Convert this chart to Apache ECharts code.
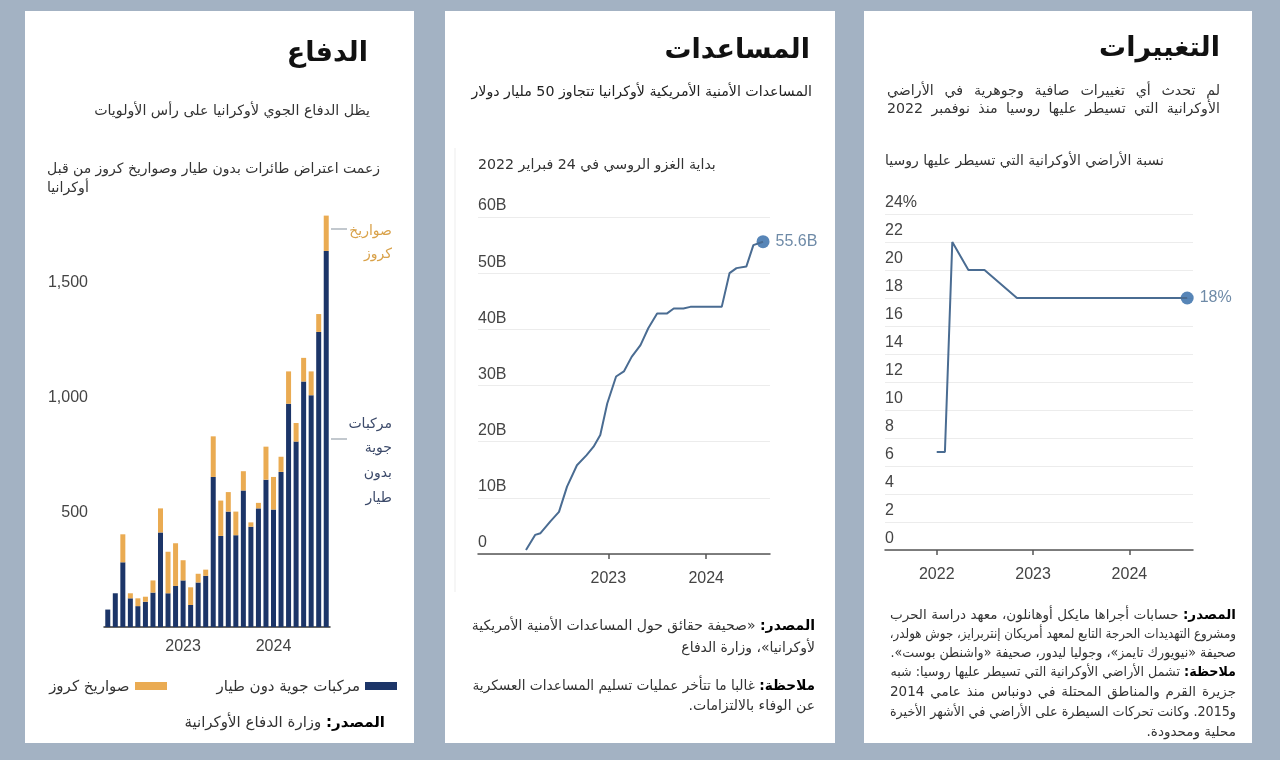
<!DOCTYPE html>
<html lang="ar">
<head>
<meta charset="utf-8">
<script src="https://cdn.jsdelivr.net/npm/echarts@6/dist/echarts.min.js"></script>
<style>
html,body{margin:0;padding:0;}
body{width:1280px;height:760px;background:#a3b2c3;position:relative;overflow:hidden;font-family:'DejaVu Sans',sans-serif;}
.panel{position:absolute;background:#fff;top:11px;height:732px;}
#chart{position:absolute;left:0;top:0;width:1280px;height:760px;z-index:1;}
.t{position:absolute;z-index:2;white-space:nowrap;direction:rtl;color:#333;font-size:15px;line-height:20px;height:20px;text-align:right;}
.j{text-align:justify;text-align-last:justify;}
.l{text-align:left;}
.h{font-weight:bold;font-size:27px;line-height:36px;height:36px;color:#111;}
.s{font-size:14.2px;}
.f{font-size:14px;}
.g{font-size:13.5px;line-height:19px;height:19px;}
b{color:#000;}
.leg{position:absolute;z-index:2;direction:rtl;display:flex;align-items:center;font-size:15px;color:#333;white-space:nowrap;}
.sw{display:inline-block;width:32px;height:8px;}
</style>
</head>
<body>
<div class="panel" style="left:25px;width:389px"></div>
<div class="panel" style="left:445px;width:390px"></div>
<div class="panel" style="left:864px;width:388px"></div>
<div id="chart"></div>

<!-- Panel 1 -->
<div class="t h" style="top:34px;left:200px;width:168px">الدفاع</div>
<div class="t s" style="top:100px;left:60px;width:310px">يظل الدفاع الجوي لأوكرانيا على رأس الأولويات</div>
<div class="t j s" style="top:158px;left:47px;width:333px">زعمت اعتراض طائرات بدون طيار وصواريخ كروز من قبل</div>
<div class="t l s" style="top:177px;left:47px;width:333px">أوكرانيا</div>
<div class="t f" style="top:220px;left:340px;width:52px;color:#d9a24a">صواريخ</div>
<div class="t f" style="top:243px;left:340px;width:52px;color:#d9a24a">كروز</div>
<div class="t f" style="top:413px;left:340px;width:52px;color:#3c4a6a">مركبات</div>
<div class="t f" style="top:437px;left:340px;width:52px;color:#3c4a6a">جوية</div>
<div class="t f" style="top:462px;left:340px;width:52px;color:#3c4a6a">بدون</div>
<div class="t f" style="top:487px;left:340px;width:52px;color:#3c4a6a">طيار</div>
<div class="leg" style="top:676px;right:883px;height:20px">
  <span class="sw" style="background:#1c3568;margin-left:5px"></span><span>مركبات جوية دون طيار</span>
  <span class="sw" style="background:#eaab52;margin-left:5px;margin-right:50px"></span><span>صواريخ كروز</span>
</div>
<div class="t" style="top:712px;left:150px;width:235px"><b>المصدر:</b> وزارة الدفاع الأوكرانية</div>

<!-- Panel 2 -->
<div class="t h" style="top:31px;left:600px;width:210px">المساعدات</div>
<div class="t s" style="top:81px;left:460px;width:352px;color:#222">المساعدات الأمنية الأمريكية لأوكرانيا تتجاوز 50 مليار دولار</div>
<div class="t l s" style="top:154px;left:478px;width:300px">بداية الغزو الروسي في 24 فبراير 2022</div>
<div class="t f j" style="top:615px;left:472px;width:343px"><b>المصدر:</b> «صحيفة حقائق حول المساعدات الأمنية الأمريكية</div>
<div class="t f" style="top:637px;left:472px;width:343px">لأوكرانيا»، وزارة الدفاع</div>
<div class="t f j" style="top:675px;left:472px;width:343px"><b>ملاحظة:</b> غالبا ما تتأخر عمليات تسليم المساعدات العسكرية</div>
<div class="t f" style="top:695px;left:472px;width:343px">عن الوفاء بالالتزامات.</div>

<!-- Panel 3 -->
<div class="t h" style="top:29px;left:1000px;width:220px">التغييرات</div>
<div class="t j s" style="top:80px;left:887px;width:333px">لم تحدث أي تغييرات صافية وجوهرية في الأراضي</div>
<div class="t j s" style="top:98px;left:887px;width:333px">الأوكرانية التي تسيطر عليها روسيا منذ نوفمبر 2022</div>
<div class="t l f" style="top:150px;left:885px;width:300px">نسبة الأراضي الأوكرانية التي تسيطر عليها روسيا</div>
<div class="t g j" style="top:605px;left:890px;width:346px"><b>المصدر:</b> حسابات أجراها مايكل أوهانلون، معهد دراسة الحرب</div>
<div class="t g j" style="top:624px;left:890px;width:346px">ومشروع التهديدات الحرجة التابع لمعهد أمريكان إنتربرايز، جوش هولدر،</div>
<div class="t g j" style="top:643px;left:890px;width:346px">صحيفة «نيويورك تايمز»، وجوليا ليدور، صحيفة «واشنطن بوست».</div>
<div class="t g j" style="top:662px;left:890px;width:346px"><b>ملاحظة:</b> تشمل الأراضي الأوكرانية التي تسيطر عليها روسيا: شبه</div>
<div class="t g j" style="top:682px;left:890px;width:346px">جزيرة القرم والمناطق المحتلة في دونباس منذ عامي 2014</div>
<div class="t g j" style="top:702px;left:890px;width:346px">و2015. وكانت تحركات السيطرة على الأراضي في الأشهر الأخيرة</div>
<div class="t g" style="top:722px;left:890px;width:346px">محلية ومحدودة.</div>

<script>
// ---------- Data ----------
const barMonths = ['2022-03','2022-04','2022-05','2022-06','2022-07','2022-08','2022-09','2022-10','2022-11','2022-12',
  '2023-01','2023-02','2023-03','2023-04','2023-05','2023-06','2023-07','2023-08','2023-09','2023-10','2023-11','2023-12',
  '2024-01','2024-02','2024-03','2024-04','2024-05','2024-06','2024-07','2024-08'];
const droneValues  = [76,147,282,125,91,110,150,412,147,179,203,96,194,223,654,397,503,400,595,437,517,642,512,676,973,808,1070,1010,1286,1639];
const cruiseValues = [0,0,122,22,34,22,53,105,181,186,88,77,38,27,177,154,85,103,84,19,24,144,142,66,141,81,103,104,78,154];
const barYearLabelMonths = ['2023-01','2024-01'];
const barYTicks = [500,1000,1500];

const aidDates = ['2022-02-28','2022-04-03','2022-04-23','2022-05-30','2022-07-01','2022-07-31','2022-09-06','2022-10-12',
  '2022-11-07','2022-12-02','2022-12-28','2023-01-30','2023-02-28','2023-03-29','2023-05-01','2023-05-30','2023-07-02',
  '2023-08-07','2023-09-02','2023-10-08','2023-11-03','2024-02-28','2024-03-28','2024-04-23','2024-05-30','2024-06-25','2024-07-31'];
const aidValues = [0.7,3.4,3.7,5.8,7.5,12.0,15.8,17.6,19.1,21.2,26.8,31.6,32.5,35.1,37.2,40.2,42.8,42.8,43.7,43.7,44.0,44.0,50.0,50.9,51.2,55.0,55.6];
const aidYearTicks = ['2023-01-01','2024-01-01'];

const territoryDates  = ['2022-01-01','2022-02-01','2022-03-01','2022-05-01','2022-07-01','2022-11-01','2024-08-07'];
const territoryValues = [7,7,22,20,20,18,18];
const territoryYearTicks = ['2022-01-01','2023-01-01','2024-01-01'];

// ---------- Helpers ----------
const ts = s => Date.UTC(+s.slice(0,4), +s.slice(5,7) - 1, +s.slice(8,10));
const zip = (a, b) => a.map((d, i) => [ts(d), b[i]]);
const yearOf = v => String(new Date(v).getUTCFullYear());
const numFont = 'Liberation Sans';
const axisTxt = '#444';

const chart = echarts.init(document.getElementById('chart'), null, {renderer: 'canvas'});

const insideY = (fmt) => ({
  inside: true, margin: 0, align: 'left', verticalAlign: 'bottom', padding: [0,0,3,0],
  color: axisTxt, fontSize: 16, fontFamily: numFont, formatter: fmt
});
const yearAxis = (grid, min, max, ticks) => ({
  type: 'value', gridIndex: grid, min: ts(min), max: ts(max),
  axisLine: {lineStyle: {color: '#555', width: 1.5}},
  axisTick: {show: true, customValues: ticks.map(ts), length: 5, lineStyle: {color: '#555', width: 1.5}},
  axisLabel: {customValues: ticks.map(ts), formatter: yearOf,
    color: axisTxt, fontSize: 16, fontFamily: numFont, margin: 17},
  splitLine: {show: false}
});

const option = {
  animation: false,
  backgroundColor: 'transparent',
  grid: [
    {left: 104, top: 214, width: 226, height: 413},
    {left: 478, top: 217, width: 292, height: 337},
    {left: 885, top: 214, width: 308, height: 336}
  ],
  xAxis: [
    {
      type: 'category', gridIndex: 0, data: barMonths,
      axisLine: {lineStyle: {color: '#333', width: 1.5}},
      axisTick: {show: false},
      axisLabel: {
        interval: (i, v) => barYearLabelMonths.includes(v),
        formatter: v => v.slice(0, 4),
        color: axisTxt, fontSize: 16, fontFamily: numFont, margin: 12
      }
    },
    yearAxis(1, '2021-09-02', '2024-08-26', aidYearTicks),
    yearAxis(2, '2021-06-19', '2024-08-29', territoryYearTicks)
  ],
  yAxis: [
    {
      type: 'value', gridIndex: 0, min: 0, max: 1800, interval: 500,
      splitLine: {show: false}, axisLine: {show: false}, axisTick: {show: false},
      axisLabel: {formatter: v => barYTicks.includes(v) ? v.toLocaleString('en-US') : '',
        color: axisTxt, fontSize: 16, fontFamily: numFont, margin: 16}
    },
    {
      type: 'value', gridIndex: 1, min: 0, max: 60, interval: 10,
      splitLine: {lineStyle: {color: '#ececec'}}, axisLine: {show: false}, axisTick: {show: false},
      axisLabel: insideY(v => v === 0 ? '0' : v + 'B')
    },
    {
      type: 'value', gridIndex: 2, min: 0, max: 24, interval: 2,
      splitLine: {lineStyle: {color: '#ececec'}}, axisLine: {show: false}, axisTick: {show: false},
      axisLabel: insideY(v => v === 24 ? '24%' : String(v))
    }
  ],
  series: [
    {type: 'bar', name: 'مركبات جوية دون طيار', xAxisIndex: 0, yAxisIndex: 0, stack: 'p1', barWidth: 5,
      itemStyle: {color: '#1c3568'}, data: droneValues},
    {type: 'bar', name: 'صواريخ كروز', xAxisIndex: 0, yAxisIndex: 0, stack: 'p1', barWidth: 5,
      itemStyle: {color: '#eaab52'}, data: cruiseValues},
    {type: 'line', xAxisIndex: 1, yAxisIndex: 1, symbol: 'none', data: zip(aidDates, aidValues),
      lineStyle: {color: '#4a6c92', width: 2}},
    {type: 'scatter', xAxisIndex: 1, yAxisIndex: 1, symbolSize: 13, itemStyle: {color: '#2d66a5'},
      data: zip(aidDates, aidValues).slice(-1),
      label: {show: true, position: 'right', distance: 6, color: '#4a6d91', fontSize: 16, fontFamily: numFont,
        formatter: p => p.value[1] + 'B'}},
    {type: 'line', xAxisIndex: 2, yAxisIndex: 2, symbol: 'none', data: zip(territoryDates, territoryValues),
      lineStyle: {color: '#4a6c92', width: 2}},
    {type: 'scatter', xAxisIndex: 2, yAxisIndex: 2, symbolSize: 13, itemStyle: {color: '#2d66a5'},
      data: zip(territoryDates, territoryValues).slice(-1),
      label: {show: true, position: 'right', distance: 6, color: '#4a6d91', fontSize: 16, fontFamily: numFont,
        formatter: p => p.value[1] + '%'}}
  ],
  graphic: [
    {type: 'line', shape: {x1: 331, y1: 229, x2: 347, y2: 229}, style: {stroke: '#9aa3ad', lineWidth: 1.2}},
    {type: 'line', shape: {x1: 331, y1: 439, x2: 347, y2: 439}, style: {stroke: '#9aa3ad', lineWidth: 1.2}},
    {type: 'line', shape: {x1: 455, y1: 148, x2: 455, y2: 592}, style: {stroke: '#ededed', lineWidth: 1}}
  ]
};

// fit long text lines into their boxes
function fit() {
  document.querySelectorAll('.t').forEach(el => {
    el.style.transform = '';
    const sw = el.scrollWidth, cw = el.clientWidth;
    if (sw > cw + 1) {
      el.style.transformOrigin = 'right center';
      el.style.transform = 'scaleX(' + (cw / sw) + ')';
    }
  });
}
fit();
if (document.fonts && document.fonts.ready) document.fonts.ready.then(fit);

chart.setOption(option);
</script>
</body>
</html>
